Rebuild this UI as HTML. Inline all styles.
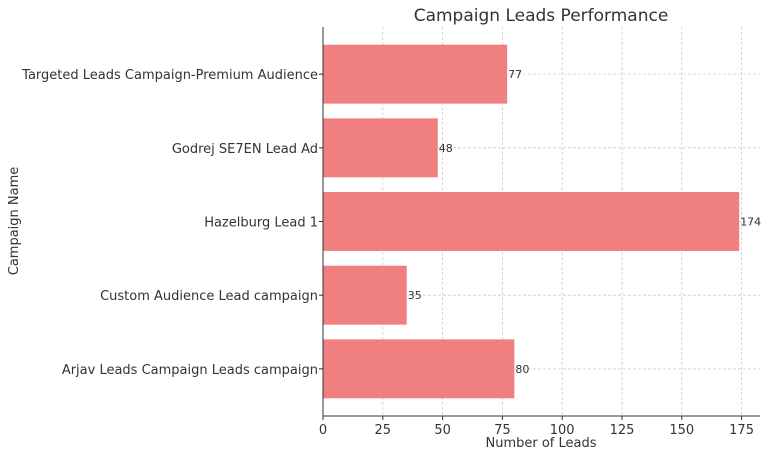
<!DOCTYPE html>
<html><head><meta charset="utf-8"><style>
body{margin:0;background:#fff;font-family:"Liberation Sans","DejaVu Sans",sans-serif;}
svg text{font-family:"DejaVu Sans","Liberation Sans",sans-serif;fill:#333;}
</style></head><body>
<svg id="chart" width="768" height="458" viewBox="0 0 768 458" xmlns="http://www.w3.org/2000/svg">
<text x="541" y="21" font-size="17" text-anchor="middle">Campaign Leads Performance</text>
<g id="grid"></g>
<g id="bars"></g>
<g id="axes"></g>
<text x="541" y="447" font-size="13" text-anchor="middle">Number of Leads</text>
<text transform="translate(18,221) rotate(-90)" font-size="13" text-anchor="middle">Campaign Name</text>
</svg>
<script>
const categories = ["Arjav Leads Campaign Leads campaign","Custom Audience Lead campaign","Hazelburg Lead 1","Godrej SE7EN Lead Ad","Targeted Leads Campaign-Premium Audience"];
const leads = [80,35,174,48,77];
const xTicks = [0,25,50,75,100,125,150,175];
const NS="http://www.w3.org/2000/svg";
const L=323,R=760,T=27,B=416;
const xMax=Math.max(...leads)*1.05;
const x=v=>L+v/xMax*(R-L);
const yMin=-0.64,yMax=categories.length-1+0.64;
const y=v=>B-(v-yMin)/(yMax-yMin)*(B-T);
const unit=(B-T)/(yMax-yMin);
function mk(tag,attrs,parent){const e=document.createElementNS(NS,tag);for(const k in attrs)e.setAttribute(k,attrs[k]);parent.appendChild(e);return e;}
const grid=document.getElementById('grid'),bars=document.getElementById('bars'),axes=document.getElementById('axes');
xTicks.forEach(t=>{
  const gl=mk('line',{x1:x(t),x2:x(t),y1:T,y2:B,stroke:'#ccc','stroke-width':0.8,'stroke-dasharray':'3,2'},grid);
  
  
  const tk=mk('line',{x1:x(t),x2:x(t),y1:B,y2:B+4,stroke:'#333'},axes);
  
  
  const tl=mk('text',{x:x(t),y:B+18,'font-size':13,'text-anchor':'middle'},axes);
  tl.textContent=t;
  
  
});
categories.forEach((c,i)=>{
  const cy=y(i);
  const gl=mk('line',{x1:L,x2:R,y1:cy,y2:cy,stroke:'#ccc','stroke-width':0.8,'stroke-dasharray':'3,2'},grid);
  
  
  const r=mk('rect',{x:x(0),y:cy-0.4*unit,width:x(leads[i])-x(0),height:0.8*unit,fill:'#f08080'},bars);
  
  
  const v=mk('text',{x:x(leads[i])+1,y:cy+4,'font-size':11},bars);
  v.textContent=leads[i];
  
  
  const tk=mk('line',{x1:L-4,x2:L,y1:cy,y2:cy,stroke:'#333'},axes);
  
  
  const tl=mk('text',{x:L-5,y:cy+5,'font-size':13,'text-anchor':'end'},axes);
  tl.textContent=c;
  
  
});
const la=mk('line',{x1:L,x2:L,y1:T,y2:B,stroke:'#333'},axes);


const ba=mk('line',{x1:L,x2:R,y1:B,y2:B,stroke:'#333'},axes);


</script>
</body></html>
